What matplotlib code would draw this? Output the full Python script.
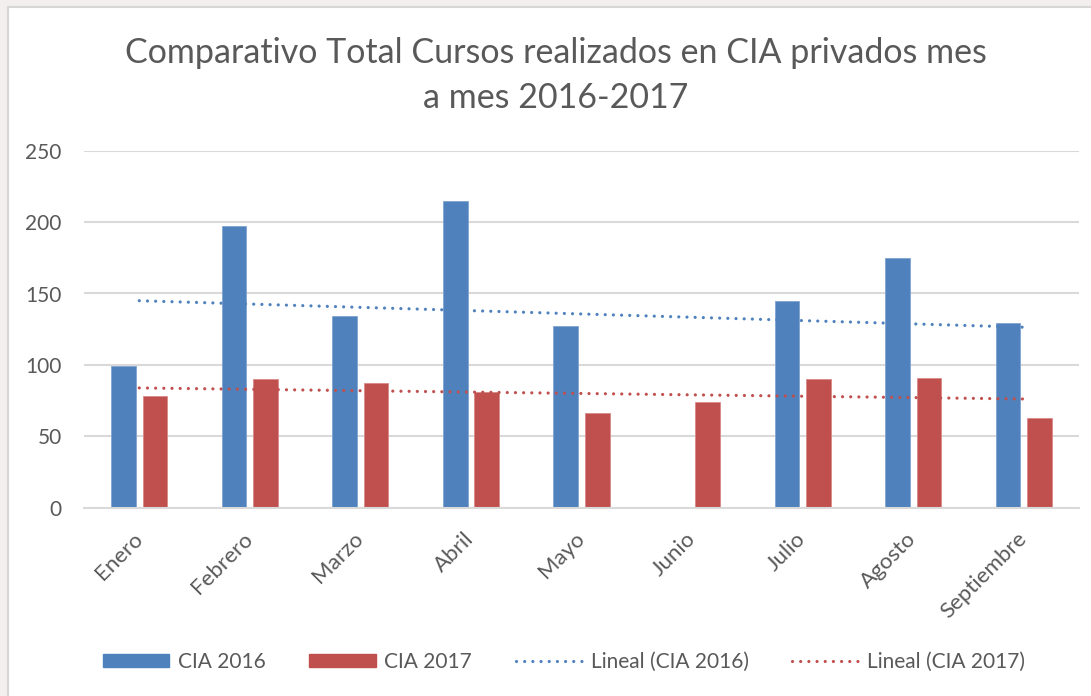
import numpy as np
import matplotlib
matplotlib.use("Agg")
import matplotlib.pyplot as plt
from matplotlib.patches import Rectangle
from matplotlib.lines import Line2D

plt.rcParams['font.family'] = ['Lato', 'DejaVu Sans']

meses = ["Enero", "Febrero", "Marzo", "Abril", "Mayo", "Junio",
         "Julio", "Agosto", "Septiembre"]
cia_2016 = [99, 197, 134, 215, 127, 0, 145, 175, 129]
cia_2017 = [78, 90, 87, 81, 66, 74, 90, 91, 63]

azul = "#4F81BD"
rojo = "#C0504D"
gris = "#595959"

fig = plt.figure(figsize=(10.91, 6.96), dpi=100)
fig.patch.set_facecolor("white")

# marco exterior rosado con borde gris
fig.patches.append(Rectangle((0, 0), 1, 1, transform=fig.transFigure,
                             facecolor="#F4EFEF", edgecolor="none", zorder=-3))
fig.patches.append(Rectangle((7.5 / 1091, -0.01), 1.1, 1 - 6.5 / 696 + 0.01,
                             transform=fig.transFigure, facecolor="white",
                             edgecolor="#D6D6D6", linewidth=1.5, zorder=-2))

ax = fig.add_axes([84 / 1091, 1 - 507.7 / 696, 995 / 1091, 357 / 696])
ax.set_facecolor("none")

x = np.arange(len(meses))
ancho = 0.223
desp = 0.142
ax.bar(x - desp, cia_2016, ancho, color=azul, edgecolor="#7FA3D1", linewidth=0.6, zorder=2)
ax.bar(x + desp, cia_2017, ancho, color=rojo, edgecolor="#D98A88", linewidth=0.6, zorder=2)

# líneas de tendencia lineal (meses 1..9)
xm = x + 1
for serie, color in ((cia_2016, azul), (cia_2017, rojo)):
    m, b = np.polyfit(xm, serie, 1)
    ax.plot(x, m * xm + b, color=color, linewidth=2.3,
            linestyle=(0, (0.01, 2.55)), dash_capstyle="round", zorder=3)

ax.set_xlim(-0.5, len(meses) - 0.5)
ax.set_ylim(0, 250)
ax.set_yticks([0, 50, 100, 150, 200, 250])
ax.yaxis.grid(True, color="#D9D9D9", linewidth=1.5, zorder=0)
ax.set_axisbelow(True)
for s in ["top", "right", "left"]:
    ax.spines[s].set_visible(False)
ax.spines["bottom"].set_color("#D9D9D9")
ax.spines["bottom"].set_linewidth(1.5)
ax.tick_params(axis="both", length=0, colors=gris, labelsize=15)
ax.tick_params(axis="y", pad=16)
ax.set_xticks(x)
ax.set_xticklabels(meses, rotation=45, ha="right", va="center",
                   rotation_mode="anchor", fontsize=16, color=gris)
ax.tick_params(axis="x", pad=20)

fig.text(0.5095, 1 - 53 / 696, "Comparativo Total Cursos realizados en CIA privados mes",
         ha="center", va="center", fontsize=24.5, color=gris)
fig.text(0.5095, 1 - 98 / 696, "a mes 2016-2017",
         ha="center", va="center", fontsize=24.5, color=gris)

handles = [
    Rectangle((0, 0), 1, 1, color=azul),
    Rectangle((0, 0), 1, 1, color=rojo),
    Line2D([], [], color=azul, linewidth=2.3, linestyle=(0, (0.01, 2.55)),
           dash_capstyle="round"),
    Line2D([], [], color=rojo, linewidth=2.3, linestyle=(0, (0.01, 2.55)),
           dash_capstyle="round"),
]
etiquetas = ["CIA 2016", "CIA 2017", "Lineal (CIA 2016)", "Lineal (CIA 2017)"]
leg = fig.legend(handles, etiquetas, loc="center", bbox_to_anchor=(0.517, 1 - 662 / 696),
                 ncol=4, frameon=False, fontsize=15, handlelength=3.2,
                 handleheight=0.6, handletextpad=0.4, columnspacing=2.1)
for t in leg.get_texts():
    t.set_color(gris)

fig.savefig("out.png", dpi=100)
